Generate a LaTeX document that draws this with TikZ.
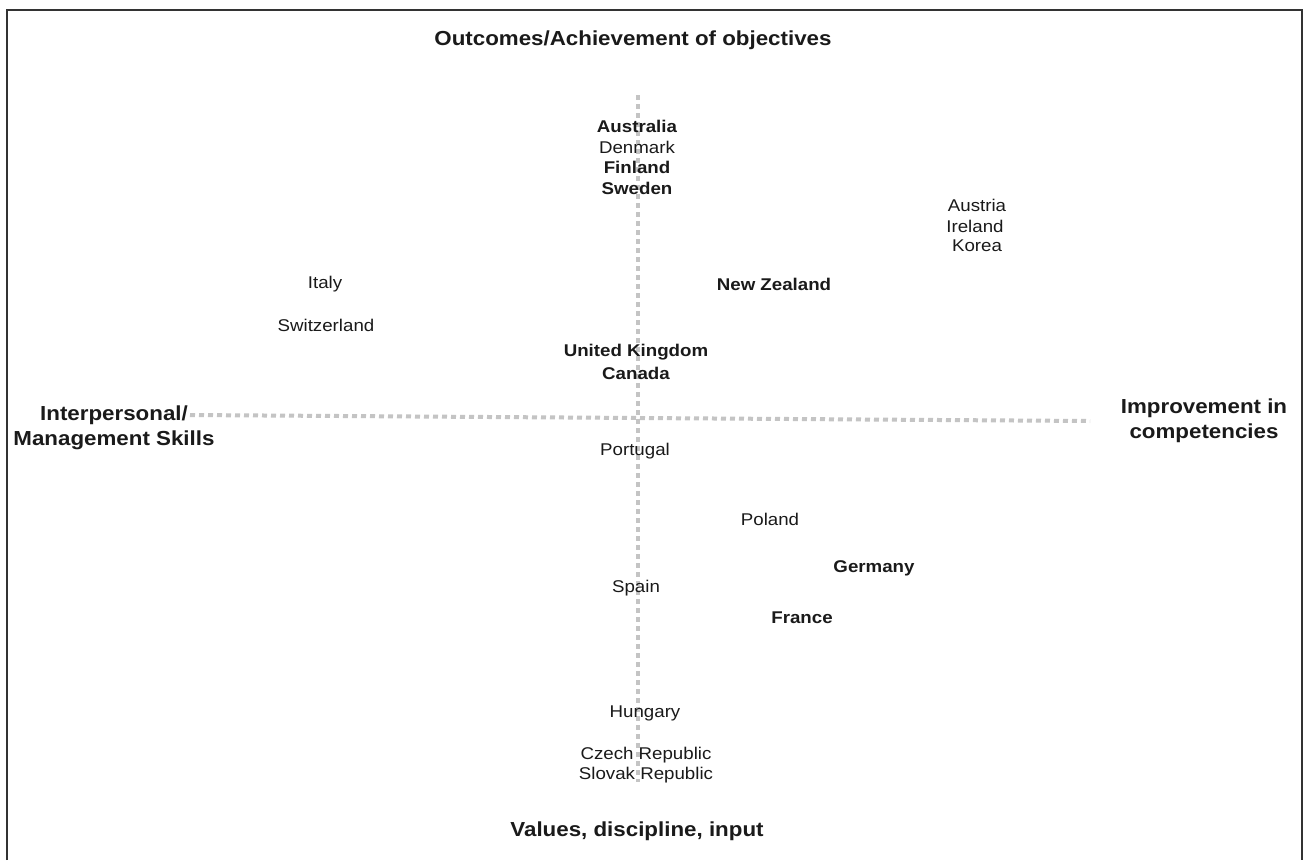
\documentclass[tikz,border=0pt]{standalone}
\usepackage{fontspec}
\setmainfont{Liberation Sans}[FakeStretch=1.1]
\definecolor{txt}{HTML}{1A1A1A}
\definecolor{dots}{HTML}{C4C4C4}
\definecolor{frame}{HTML}{333333}
\begin{document}
\begin{tikzpicture}[x=1pt,y=-1pt,
  lab/.style={text=txt,inner sep=0pt,align=center,font=\fontsize{17}{20.5}\selectfont},
  blab/.style={lab,font=\fontsize{17}{20.5}\selectfont\bfseries},
  axislab/.style={text=txt,inner sep=0pt,align=center,font=\fontsize{20.3}{25}\selectfont\bfseries},
  axisline/.style={draw=dots,line width=4pt,dash pattern=on 5pt off 4pt}]
\useasboundingbox (0,0) rectangle (1303,860);
\fill[white] (0,0) rectangle (1303,860);
\draw[frame,line width=2pt] (7,860) -- (7,10) -- (1302,10) -- (1302,860);
% axes
\coordinate (vt) at (638,95);
\coordinate (vb) at (638,782);
\coordinate (hl) at (190,415);
\coordinate (hr) at (1090,421);
\draw[axisline] (vt) -- (vb);
\draw[axisline] (hl) -- (hr);
% axis labels
\node[axislab] (top) at (633,40) {Outcomes/Achievement of objectives};
\node[axislab] (bottom) at (637,831) {Values, discipline, input};
\node[axislab] (left) at (114,428) {Interpersonal/\\Management Skills};
\node[axislab] (right) at (1204,421) {Improvement in\\competencies};
% countries
\node[blab] (aus) at (637,126) {Australia};
\node[lab] (den) at (637,147) {Denmark};
\node[blab] (fin) at (637,167) {Finland};
\node[blab] (swe) at (637,188) {Sweden};
\node[lab] (ast) at (977,205) {Austria};
\node[lab] (ire) at (975,226) {Ireland};
\node[lab] (kor) at (977,246) {Korea};
\node[lab] (ita) at (325,284) {Italy};
\node[lab] (swi) at (326,325) {Switzerland};
\node[blab] (nz) at (774,284) {New Zealand};
\node[blab] (uk) at (636,352) {United Kingdom};
\node[blab] (can) at (636,373) {Canada};
\node[lab] (por) at (635,451) {Portugal};
\node[lab] (pol) at (770,519) {Poland};
\node[blab] (ger) at (874,568) {Germany};
\node[lab] (spa) at (636,588) {Spain};
\node[blab] (fra) at (802,618) {France};
\node[lab] (hun) at (645,713) {Hungary};
\node[lab] (cze) at (646,755) {Czech Republic};
\node[lab] (slo) at (646,775) {Slovak Republic};
\end{tikzpicture}
\end{document}
